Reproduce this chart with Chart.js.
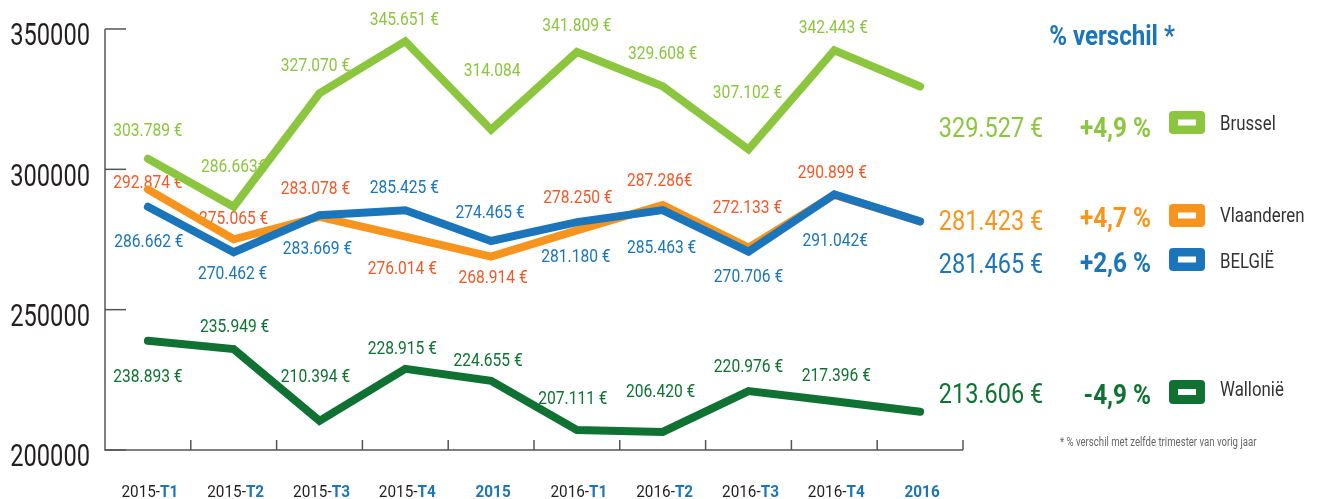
<!DOCTYPE html>
<html><head><meta charset="utf-8">
<script src="https://cdn.jsdelivr.net/npm/chart.js@4/dist/chart.umd.min.js"></script>
<style>html,body{margin:0;padding:0;background:#fff;overflow:hidden}</style>
</head><body>
<canvas id="c" width="1319" height="499"></canvas>
<script>
// ---------- data ----------
const categories = ['2015-T1','2015-T2','2015-T3','2015-T4','2015','2016-T1','2016-T2','2016-T3','2016-T4','2016'];
const brussel    = [303789, 286663, 327070, 345651, 314084, 341809, 329608, 307102, 342443, 329527];
const vlaanderen = [292874, 275065, 283078, 276014, 268914, 278250, 287286, 272133, 290899, 281423];
const belgie     = [286662, 270462, 283669, 285425, 274465, 281180, 285463, 270706, 291042, 281465];
const wallonie   = [238893, 235949, 210394, 228915, 224655, 207111, 206420, 220976, 217396, 213606];
const seriesNames = ['Brussel', 'Vlaanderen', 'BELGIË', 'Wallonië'];
const changes     = [4.9, 4.7, 2.6, -4.9];
const yTicks      = [200000, 250000, 300000, 350000];
const titleText   = '% verschil *';
const footnote    = '* % verschil met zelfde trimester van vorig jaar';

// ---------- style / layout ----------
const F = 'Roboto, "DejaVu Sans Condensed", sans-serif';
const C = {
  brussel: '#8cc63f', vlaanderen: '#f7941d', vlLabel: '#f05a28', belgie: '#1b75bb', wallonie: '#0f7233',
  axis: '#555555', dark: '#231f20', blue: '#1b75bb'
};
// label offsets (dx, dy) relative to each point
const offBr = [[0,-29],[0,-42],[-4,-29],[-1,-23],[1,-61],[0,-28],[0,-34],[-1,-58],[-1,-24]];
const offVl = [[0,-8],[0,-22],[-4,-30],[-3,31],[2,20],[1,-34],[-3,-26],[-1,-41],[-2,-24]];
const offBe = [[1,33],[-1,20],[-2,32],[-1,-24],[-1,-30],[-1,33],[-1,36],[0,24],[1,45]];
const offWa = [[0,34],[1,-24],[-4,-46],[-3,-22],[-3,-22],[-4,-33],[-2,-42],[0,-26],[2,-27]];
const suffixBr = {1:'€', 4:''};
const suffixVl = {6:'€'};
const suffixBe = {8:'€'};
const suffixWa = {};

function fmtNum(v){ return String(v).replace(/\B(?=(\d{3})+(?!\d))/g,'.'); }
function fmtPct(p){ return (p>0?'+':'-') + Math.abs(p).toFixed(1).replace('.',',') + ' %'; }

const series = [
  {name: seriesNames[0], data: brussel,    line: C.brussel,    label: C.brussel,  off: offBr, suf: suffixBr, pct: changes[0], rowVal: 127, rowPct: 127, box: [111,23], rowName: 123},
  {name: seriesNames[1], data: vlaanderen, line: C.vlaanderen, label: C.vlLabel,  off: offVl, suf: suffixVl, pct: changes[1], rowVal: 220, rowPct: 217, box: [204,23], rowName: 215},
  {name: seriesNames[2], data: belgie,     line: C.belgie,     label: C.belgie,   off: offBe, suf: suffixBe, pct: changes[2], rowVal: 263, rowPct: 262, box: [248,23], rowName: 261},
  {name: seriesNames[3], data: wallonie,   line: C.wallonie,   label: C.wallonie, off: offWa, suf: suffixWa, pct: changes[3], rowVal: 393, rowPct: 394, box: [380,24], rowName: 389},
];
const drawOrder = [2, 1, 0, 3];

// condensed text: draw with horizontal scale sx; yc = vertical centre of cap height
function drawT(ctx, txt, x, yc, font, size, sx, align){
  ctx.save();
  ctx.font = font;
  const w = ctx.measureText(txt).width * sx;
  let x0 = x;
  if (align === 'center') x0 = x - w/2; else if (align === 'right') x0 = x - w;
  ctx.translate(x0, yc + size*0.355);
  ctx.scale(sx, 1);
  ctx.textAlign = 'left'; ctx.textBaseline = 'alphabetic';
  ctx.fillText(txt, 0, 0);
  ctx.restore();
  return w;
}

function roundRect(ctx, x, y, w, h, r){
  ctx.beginPath();
  ctx.moveTo(x+r, y); ctx.lineTo(x+w-r, y); ctx.quadraticCurveTo(x+w, y, x+w, y+r);
  ctx.lineTo(x+w, y+h-r); ctx.quadraticCurveTo(x+w, y+h, x+w-r, y+h);
  ctx.lineTo(x+r, y+h); ctx.quadraticCurveTo(x, y+h, x, y+h-r);
  ctx.lineTo(x, y+r); ctx.quadraticCurveTo(x, y, x+r, y); ctx.closePath();
}

const decor = {
  id: 'decor',
  beforeDatasetsDraw(chart){
    const ctx = chart.ctx, xs = chart.scales.x, ys = chart.scales.y, a = chart.chartArea;
    ctx.save();
    ctx.strokeStyle = C.axis; ctx.lineWidth = 1.5;
    ctx.beginPath();
    ctx.moveTo(a.left, ys.getPixelForValue(yTicks[yTicks.length-1]));
    ctx.lineTo(a.left, a.bottom); ctx.lineTo(a.right, a.bottom);
    ctx.stroke();
    yTicks.forEach(v => {
      const y = ys.getPixelForValue(v);
      ctx.beginPath(); ctx.moveTo(a.left, y); ctx.lineTo(a.left + 21, y); ctx.stroke();
      ctx.fillStyle = C.dark;
      drawT(ctx, String(v), a.left - 15, y + 5, '32px ' + F, 32, 0.74, 'right');
    });
    const step = xs.getPixelForValue(1) - xs.getPixelForValue(0);
    for (let i = 0; i < categories.length; i++){
      const x = xs.getPixelForValue(i) + step/2;
      ctx.beginPath(); ctx.moveTo(x, a.bottom); ctx.lineTo(x, a.bottom - 10); ctx.stroke();
    }
    // x labels
    const sxX = 0.9;
    categories.forEach((c, i) => {
      const cx = xs.getPixelForValue(i);
      const k = c.indexOf('-');
      const pre = k >= 0 ? c.slice(0, k+1) : '';
      const suf = k >= 0 ? c.slice(k+1) : c;
      ctx.font = '17px ' + F; const w1 = ctx.measureText(pre).width * sxX;
      ctx.font = 'bold 17px ' + F; const w2 = ctx.measureText(suf).width * sxX;
      const x0 = cx - (w1 + w2)/2 + 2;
      ctx.fillStyle = C.dark; drawT(ctx, pre, x0, 491, '17px ' + F, 17, sxX, 'left');
      ctx.fillStyle = C.blue; drawT(ctx, suf, x0 + w1, 491, 'bold 17px ' + F, 17, sxX, 'left');
    });
    // point value labels
    drawOrder.forEach(si => {
      const s = series[si];
      const meta = chart.getDatasetMeta(drawOrder.indexOf(si));
      s.off.forEach((o, j) => {
        const p = meta.data[j];
        const suf = (j in s.suf) ? s.suf[j] : ' €';
        ctx.fillStyle = s.label;
        drawT(ctx, fmtNum(s.data[j]) + suf, p.x + o[0], p.y + o[1], '19px ' + F, 19, 0.82, 'center');
      });
    });
    ctx.restore();
  },
  afterDatasetsDraw(chart){
    const ctx = chart.ctx;
    ctx.save();
    ctx.fillStyle = C.blue;
    drawT(ctx, titleText, 1112, 35, 'bold 28px ' + F, 28, 0.86, 'center');
    series.forEach(s => {
      const last = s.data[s.data.length-1];
      ctx.fillStyle = s.line;
      drawT(ctx, fmtNum(last) + ' €', 991, s.rowVal, '28px ' + F, 28, 0.84, 'center');
      drawT(ctx, fmtPct(s.pct), 1151, s.rowPct, 'bold 27px ' + F, 27, 0.9, 'right');
      roundRect(ctx, 1169, s.box[0], 36, s.box[1], 4); ctx.fill();
      ctx.fillStyle = '#ffffff';
      ctx.fillRect(1178, s.box[0] + s.box[1]/2 - 3, 18, 6);
      ctx.fillStyle = '#333333';
      drawT(ctx, s.name, 1220, s.rowName, '21px ' + F, 21, 0.8, 'left');
    });
    ctx.fillStyle = '#666666';
    drawT(ctx, footnote, 1060, 442, '12px ' + F, 12, 0.8, 'left');
    ctx.restore();
  }
};

new Chart(document.getElementById('c'), {
  type: 'line',
  data: {
    labels: categories,
    datasets: drawOrder.map(si => ({
      label: series[si].name,
      data: series[si].data,
      borderColor: series[si].line,
      backgroundColor: series[si].line,
      borderWidth: 8,
      pointRadius: 0,
      pointHoverRadius: 0,
      tension: 0,
      borderJoinStyle: 'miter',
      borderCapStyle: 'round',
      fill: false
    }))
  },
  options: {
    responsive: false,
    animation: false,
    events: [],
    layout: { padding: { left: 105, top: 29, right: 356, bottom: 49 } },
    plugins: { legend: { display: false }, tooltip: { enabled: false } },
    scales: {
      x: { type: 'category', offset: true, display: false },
      y: { min: 200000, max: 350000, display: false }
    }
  },
  plugins: [decor]
});
</script>
</body></html>
